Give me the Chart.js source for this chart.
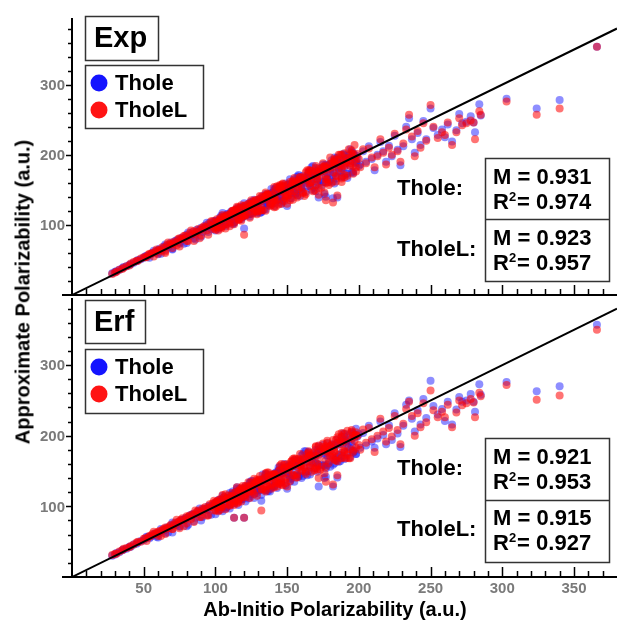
<!DOCTYPE html>
<html>
<head>
<meta charset="utf-8">
<script src="https://cdn.jsdelivr.net/npm/chart.js@4.4.0/dist/chart.umd.min.js"></script>
<style>
  body { margin: 0; background: #fff; width: 621px; height: 621px; overflow: hidden; position: relative; font-family: "Liberation Sans", Arial, sans-serif; }
  canvas { position: absolute; left: 0; }
  #top { top: 0; }
  #bot { top: 280px; }
  #ytitle { position: absolute; left: 23px; top: 292px; transform: translate(-50%, -50%) rotate(-90deg); font-weight: bold; font-size: 20px; white-space: nowrap; color: #000; }
</style>
</head>
<body>
<canvas id="top" width="621" height="300"></canvas>
<canvas id="bot" width="621" height="341"></canvas>
<div id="ytitle">Approximate Polarizability (a.u.)</div>
<script>
// ab-initio polarizabilities (x), same molecules in both panels
const abInitio = [
  28,30,31,33,35,36,38,40,41,43,
  45,46,48,50,51,53,55,56,58,60,
  61,63,64,66,68,69,71,72,74,76,
  77,79,80,82,84,85,87,88,90,92,
  93,95,96,98,100,101,103,104,106,108,
  109,111,112,114,115,117,119,120,122,123,
  125,126,128,130,131,133,134,136,137,139,
  140,142,144,145,147,148,150,151,153,154,
  156,158,159,161,162,164,165,167,168,170,
  172,173,175,176,178,180,181,183,185,187,
  189,191,193,195,197,199,
  60,65,70,75,80,85,90,95,100,102,
  105,107,110,113,116,118,121,124,127,129,
  132,135,138,141,143,146,149,152,155,157,
  160,163,166,169,171,174,177,179,182,184,
  186,188,190,192,194,196,198,104,119,139,
  105,115,125,135,145,155,165,175,185,190,
  195,113,120,132,150,172,176,177,182,185,
  201,203,205,207,209,211,213,215,217,219,
  221,223,225,227,229,231,233,235,237,239,
  241,243,245,247,250,252,255,258,260,262,
  265,268,270,272,275,278,280,281,284,285,
  303,324,340,366,
  52,54,57,59,62,65,67,70,73,75,
  78,81,83,86,89,91,94,97,99,102,
  104,107,110,112,115,118,120,123,126,128,
  131,133,136,139,141,144,146,149,152,154,
  157,159,162,164,167,170,172,175,177,180,
  182,185,187,190,192,194,197,200,
  99,103,108,113,118,124,129,134,140,145,
  150,156,161,167,172,178,183,188,193,198,
  110,116,121,127,132,138,143,148,153,158,
  163,168,173,178,183,188,152,147,142,137,
  101,106,111,116,121,126,131,136,141,146,
  151,156,161,166,171,176,181,186,191,196,
  103,108,114,119,124,129,135,141,147,153,
  159,165,171,177,183,189,195,100,112,124,
  136,148,160,170,180,190,130,144,158,170,
  184,196,142,154,166,178,188,198,128,117
];

// Exp damping
const expThole = [
  31,33,34,36,38,40,41,43,44,46,
  48,50,51,53,55,56,58,60,61,64,
  66,65,69,70,71,75,74,77,78,81,
  82,82,86,85,90,88,93,91,96,95,
  99,97,103,101,106,104,110,107,112,109,
  116,113,119,117,122,119,125,122,128,125,
  131,128,134,131,137,134,140,137,143,140,
  146,143,150,147,153,149,156,152,159,155,
  162,158,165,161,168,164,171,166,174,170,
  178,174,181,177,184,180,187,182,189,185,
  193,188,196,191,199,195,
  58,64,65,73,74,81,83,90,92,97,
  99,98,104,103,109,108,113,112,119,117,
  124,122,130,127,135,132,141,138,146,142,
  152,147,157,153,162,156,168,161,171,166,
  177,169,182,173,185,176,190,98,111,130,
  117,124,133,144,155,165,175,186,196,200,
  204,103,95,118,127,139,144,140,138,139,
  186,205,190,212,194,178,200,218,205,190,
  213,198,227,207,185,212,240,252,222,203,
  231,214,248,222,266,238,228,236,225,243,
  219,235,258,245,247,255,246,232,272,256,
  280,266,278,354,
  56,53,63,61,59,72,68,66,78,75,
  73,89,85,79,93,90,103,94,105,94,
  113,101,113,101,122,116,131,115,130,124,
  117,141,131,151,131,147,130,159,145,159,
  169,141,167,155,182,148,175,161,186,174,
  162,195,175,194,167,208,189,184,
  101,97,113,110,126,115,130,122,146,141,
  157,145,163,150,181,173,196,168,199,188,
  103,120,119,136,119,144,135,149,138,169,
  160,184,163,185,159,189,165,134,152,128,
  104,101,119,114,125,117,137,132,142,139,
  156,144,170,160,173,161,192,183,173,203,
  97,115,113,124,116,132,131,150,136,155,
  152,175,158,181,174,201,175,105,106,132,
  133,154,150,172,164,199,134,136,171,165,
  190,174,153,150,174,166,181,199,126,122
];
const expTholeL = [
  30,32,33,36,37,39,41,42,45,47,
  49,49,52,54,54,57,59,60,62,63,
  64,68,67,71,73,72,76,75,80,79,
  80,85,83,88,87,91,90,94,93,98,
  97,101,99,105,103,108,106,111,109,114,
  113,118,115,121,118,124,121,127,124,130,
  128,133,130,136,133,139,136,142,139,145,
  143,149,146,152,148,155,151,158,154,161,
  159,164,161,168,164,170,167,173,169,176,
  175,180,177,183,179,186,182,189,185,191,
  190,195,192,198,194,201,
  59,60,67,69,77,77,85,86,93,92,
  98,95,103,101,108,106,114,110,119,115,
  125,120,130,125,136,130,142,135,148,139,
  154,144,160,149,164,153,170,157,175,162,
  180,166,184,170,188,173,193,97,112,128,
  114,126,135,146,157,167,178,188,193,202,
  206,104,86,121,130,143,146,135,132,142,
  182,208,188,209,196,182,198,222,203,186,
  210,200,230,205,190,216,236,257,226,198,
  234,210,245,220,271,240,224,232,228,246,
  214,232,252,242,245,249,246,222,262,257,
  276,257,266,354,
  54,59,55,65,63,62,75,73,71,81,
  84,77,92,87,81,96,92,105,94,105,
  95,112,98,120,112,128,113,125,116,135,
  141,121,142,131,154,129,150,138,161,136,
  142,168,141,178,161,181,153,182,165,196,
  190,169,200,168,195,184,214,194,
  96,107,101,120,116,130,119,137,134,154,
  142,160,147,177,169,160,189,179,208,176,
  115,107,128,123,140,127,155,134,156,151,
  175,148,177,165,192,161,147,158,126,143,
  97,112,109,125,114,130,120,143,138,156,
  142,160,145,178,166,184,160,200,189,184,
  108,105,122,112,126,119,141,136,159,145,
  168,159,174,160,194,185,202,97,120,119,
  144,139,165,157,187,171,124,154,154,184,
  170,201,135,163,155,181,200,182,135,108
];

// Erf damping
const erfThole = [
  30,32,34,35,38,39,40,43,43,46,
  47,49,51,52,54,57,57,59,62,62,
  63,66,66,70,70,73,75,74,78,80,
  81,83,84,86,88,90,89,93,94,97,
  96,100,101,99,104,106,105,109,110,112,
  112,116,117,115,121,122,120,126,125,127,
  127,131,132,129,136,137,135,141,140,142,
  142,147,148,145,152,153,149,157,156,158,
  157,162,163,159,167,168,164,172,171,173,
  173,178,179,175,183,184,180,188,187,189,
  189,193,195,191,198,199,
  56,62,63,71,72,79,80,88,89,94,
  93,101,97,104,102,110,107,114,112,119,
  116,123,121,129,126,134,130,139,135,144,
  140,149,145,154,149,159,154,163,159,168,
  163,172,167,176,170,179,174,96,110,127,
  115,125,136,145,156,166,177,187,195,199,
  205,84,84,108,125,128,140,142,128,141,
  183,204,186,214,192,183,196,220,201,188,
  215,194,232,203,184,214,244,250,224,206,
  236,216,252,225,278,242,230,238,221,248,
  216,237,255,248,250,259,248,234,273,258,
  276,263,270,357,
  57,55,60,57,68,67,63,77,74,72,
  81,74,88,84,97,85,95,88,103,109,
  110,97,119,108,127,110,122,111,133,122,
  123,145,121,145,138,155,134,153,135,163,
  165,146,178,144,171,161,185,158,183,156,
  167,190,164,202,184,203,178,202,
  104,101,99,117,112,134,125,141,129,147,
  146,165,143,170,159,189,161,193,184,210,
  111,111,129,117,137,125,146,160,145,142,
  178,162,182,159,186,176,142,155,148,122,
  99,113,103,120,116,136,128,142,129,147,
  159,150,174,156,175,158,188,173,193,176,
  107,99,120,117,133,123,146,133,150,139,
  165,150,179,172,171,203,186,102,121,117,
  145,144,172,162,185,169,122,151,143,180,
  166,204,145,143,172,172,198,174,123,125
];
const erfTholeL = [
  31,33,33,36,38,40,41,42,44,46,
  49,50,50,54,55,56,58,61,61,64,
  65,67,68,69,72,74,73,77,77,81,
  83,81,86,87,89,88,92,94,92,96,
  99,98,103,104,102,107,109,106,113,111,
  115,114,119,120,117,123,125,122,128,126,
  130,129,134,135,132,138,140,137,143,141,
  145,144,150,151,147,154,156,152,159,157,
  161,160,165,166,162,169,171,167,174,172,
  177,176,181,182,178,185,187,183,190,188,
  192,190,197,196,193,200,
  58,61,68,69,76,78,85,87,94,93,
  99,96,103,102,108,107,113,112,118,115,
  124,121,129,127,134,131,139,136,144,141,
  150,146,155,151,160,156,165,161,169,165,
  173,169,177,173,181,177,183,99,113,131,
  116,127,134,147,158,168,176,189,198,203,
  208,84,84,94,128,140,147,135,131,144,
  180,209,190,211,195,177,200,224,206,192,
  211,199,228,208,188,217,238,248,228,200,
  232,212,246,219,264,236,226,234,226,244,
  212,233,250,243,246,252,247,226,261,256,
  272,251,257,350,
  51,58,64,62,58,70,69,68,81,79,
  72,85,82,94,85,97,87,99,108,99,
  100,117,102,115,104,126,115,134,124,133,
  138,124,148,125,146,138,160,133,155,144,
  146,174,155,174,149,184,168,184,156,185,
  194,164,193,179,207,168,201,187,
  94,110,110,105,123,121,138,127,144,132,
  160,141,168,161,186,176,166,199,168,201,
  101,122,117,139,125,140,128,154,164,155,
  149,176,152,190,178,204,156,130,133,148,
  107,103,113,106,129,121,143,129,145,137,
  147,167,152,172,157,179,173,202,168,200,
  95,110,108,129,121,136,123,145,140,164,
  157,178,152,185,177,179,206,106,108,127,
  130,159,157,185,171,194,137,132,167,154,
  194,179,137,167,158,193,168,205,131,111
];

const xTicks = [50, 100, 150, 200, 250, 300, 350];
const yTicks = [100, 200, 300];
const seriesNames = ['Thole', 'TholeL'];
const expStats = [['0.931', '0.974'], ['0.923', '0.957']];
const erfStats = [['0.921', '0.953'], ['0.915', '0.927']];

const RED = 'rgba(255,0,0,0.55)';
const BLUE = 'rgba(30,30,255,0.5)';
const FONT = '"Liberation Sans", Arial, sans-serif';
Chart.defaults.font.family = FONT;

const toPoints = ys => abInitio.map((x, i) => ({ x, y: ys[i] }));

function box(ctx, x, y, w, h) {
  ctx.lineWidth = 1.5;
  ctx.strokeStyle = '#333';
  ctx.strokeRect(x + 0.5, y + 0.5, w, h);
}

// axes with inward x ticks / outward y ticks, plus the in-plot boxes
const panelDecor = {
  id: 'panelDecor',
  afterDraw(chart, args, o) {
    const { ctx, chartArea: a } = chart;
    const xs = chart.scales.x, ys = chart.scales.y;
    ctx.save();
    ctx.strokeStyle = '#000';
    ctx.lineWidth = 2;
    ctx.beginPath();
    ctx.moveTo(a.left, a.top); ctx.lineTo(a.left, a.bottom);
    ctx.moveTo(a.left - 10, a.bottom); ctx.lineTo(a.right, a.bottom);
    ctx.stroke();
    ctx.lineWidth = 1.5;
    ctx.beginPath();
    for (let v = 10; v < xs.max; v += 10) {
      const px = Math.round(xs.getPixelForValue(v)) + 0.5;
      ctx.moveTo(px, a.bottom); ctx.lineTo(px, a.bottom - (v % 50 ? 6 : 10));
    }
    for (let v = 20; v < ys.max; v += 20) {
      const py = Math.round(ys.getPixelForValue(v)) + 0.5;
      ctx.moveTo(a.left, py); ctx.lineTo(a.left - (v % 100 ? 4 : 6), py);
    }
    ctx.stroke();

    // y tick labels
    ctx.fillStyle = '#7a7a7a';
    ctx.font = 'bold 15px ' + FONT;
    ctx.textAlign = 'right';
    ctx.textBaseline = 'middle';
    yTicks.forEach(v => ctx.fillText(String(v), a.left - 7, ys.getPixelForValue(v) + 1));

    ctx.fillStyle = '#000';
    ctx.textAlign = 'left';

    // damping name
    const nb = o.nameBox;
    box(ctx, nb[0], nb[1], nb[2], nb[3]);
    ctx.font = 'bold 29px ' + FONT;
    ctx.fillText(o.name, nb[0] + 9, nb[1] + nb[3] / 2 + 1);

    // legend
    const lb = o.legendBox;
    box(ctx, lb[0], lb[1], lb[2], lb[3]);
    ctx.font = 'bold 22px ' + FONT;
    const cols = ['#1414ff', '#ff1414'];
    seriesNames.forEach((n, i) => {
      const cy = lb[1] + 18 + i * 27;
      ctx.fillStyle = cols[i];
      ctx.beginPath(); ctx.arc(lb[0] + 14, cy, 8.5, 0, Math.PI * 2); ctx.fill();
      ctx.fillStyle = '#000';
      ctx.fillText(n, lb[0] + 30, cy + 1);
    });

    // fit statistics
    const sb = o.statsBox;
    box(ctx, sb[0], sb[1], sb[2], sb[3]);
    ctx.beginPath();
    ctx.moveTo(sb[0], sb[4] + 0.5); ctx.lineTo(sb[0] + sb[2], sb[4] + 0.5);
    ctx.stroke();
    o.stats.forEach((s, i) => {
      const top = sb[1] + i * 61;
      const tx = sb[0] + 8;
      ctx.font = 'bold 22px ' + FONT;
      ctx.fillText('M = ' + s[0], tx, top + 20);
      ctx.fillText('R', tx, top + 45);
      const rw = ctx.measureText('R').width;
      ctx.font = 'bold 13px ' + FONT;
      ctx.fillText('2', tx + rw, top + 39);
      const sw = ctx.measureText('2').width;
      ctx.font = 'bold 22px ' + FONT;
      ctx.fillText('= ' + s[1], tx + rw + sw + 1, top + 45);
      ctx.fillText(seriesNames[i] + ':', 397, top + 31);
    });

    if (o.xTitle) {
      ctx.font = 'bold 20px ' + FONT;
      ctx.textAlign = 'center';
      ctx.fillText(o.xTitle, 335, chart.height - 11);
    }
    ctx.restore();
  }
};

function makePanel(id, thole, tholeL, decor, showX, xHeight) {
  return new Chart(document.getElementById(id), {
    type: 'scatter',
    data: {
      datasets: [
        { data: [{ x: 0, y: 0 }, { x: 380, y: 380 }], showLine: true, borderColor: '#000', borderWidth: 2, pointRadius: 0 },
        { label: 'TholeL', data: toPoints(tholeL), backgroundColor: RED, borderWidth: 0, pointRadius: 4 },
        { label: 'Thole', data: toPoints(thole), backgroundColor: BLUE, borderWidth: 0, pointRadius: 4 }
      ]
    },
    options: {
      responsive: false,
      animation: false,
      devicePixelRatio: 1,
      layout: { padding: { top: 18, left: 0, right: 0, bottom: 0 } },
      plugins: { legend: { display: false }, tooltip: { enabled: false }, panelDecor: decor },
      scales: {
        x: {
          type: 'linear', min: 0, max: 380,
          grid: { display: false, drawTicks: false }, border: { display: false },
          afterFit: s => { s.height = xHeight; },
          ticks: {
            display: showX, stepSize: 50, includeBounds: false, padding: 3,
            color: '#7a7a7a', font: { size: 15, weight: 'bold' },
            callback: v => xTicks.includes(v) ? String(v) : ''
          }
        },
        y: {
          type: 'linear', min: 0, max: 395,
          grid: { display: false, drawTicks: false }, border: { display: false },
          afterFit: s => { s.width = 72; },
          ticks: { display: false, stepSize: 100 }
        }
      }
    },
    plugins: [panelDecor]
  });
}

makePanel('top', expThole, expTholeL, {
  name: 'Exp', nameBox: [85, 16, 73, 44], legendBox: [85, 65, 118, 63],
  statsBox: [485, 158, 124, 123, 219], stats: expStats
}, false, 5);

makePanel('bot', erfThole, erfTholeL, {
  name: 'Erf', nameBox: [85, 20, 60, 43], legendBox: [85, 69, 118, 64],
  statsBox: [485, 158, 124, 124, 220], stats: erfStats,
  xTitle: 'Ab-Initio Polarizability (a.u.)'
}, true, 44);
</script>
</body>
</html>
